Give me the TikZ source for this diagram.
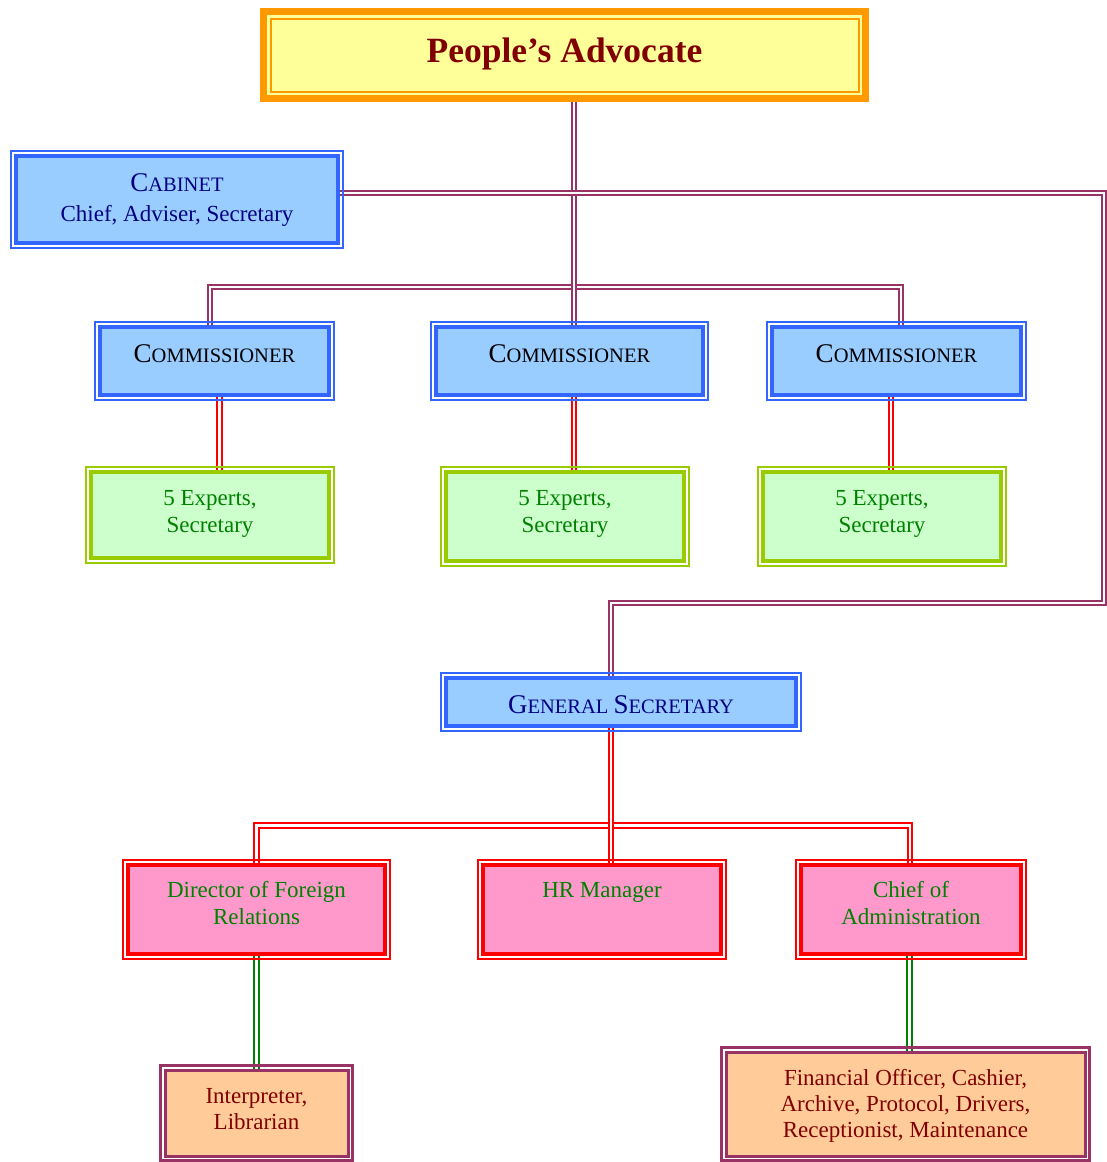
\documentclass[tikz,border=0pt]{standalone}
\usepackage{fontspec}
\setmainfont{Liberation Serif}
\usetikzlibrary{backgrounds}
\definecolor{advorange}{HTML}{FF9900}
\definecolor{advfill}{HTML}{FFFF99}
\definecolor{darkred}{HTML}{800000}
\definecolor{bluel}{HTML}{3366FF}
\definecolor{bluef}{HTML}{99CCFF}
\definecolor{navyt}{HTML}{000080}
\definecolor{greenl}{HTML}{99CC00}
\definecolor{greenf}{HTML}{CCFFCC}
\definecolor{greent}{HTML}{008000}
\definecolor{redl}{HTML}{FF0000}
\definecolor{pinkf}{HTML}{FF99CC}
\definecolor{plum}{HTML}{993366}
\definecolor{peachf}{HTML}{FFCC99}
\newcommand\bt[4]{\parbox[c][#2][t]{#1}{\centering\rule{0pt}{#3}#4\par}}
\newcommand\smc[1]{{\fontsize{20.5}{26}\selectfont #1}}
\newcommand\bigc[1]{{\fontsize{27}{30}\selectfont #1}}
\tikzset{
  boxbase/.style={rectangle, inner sep=0pt, outer sep=0pt, line width=3.5pt},
  bluebox/.style={boxbase, draw=bluel, fill=bluef, text=navyt, font=\fontsize{23}{30}\selectfont},
  combox/.style={bluebox, text=black},
  greenbox/.style={boxbase, draw=greenl, fill=greenf, text=greent, font=\fontsize{23}{27}\selectfont},
  pinkbox/.style={boxbase, draw=redl, fill=pinkf, text=greent, font=\fontsize{23}{26.7}\selectfont},
  peachbox/.style={boxbase, draw=plum, fill=peachf, text=darkred, line width=3pt, font=\fontsize{23}{26.3}\selectfont},
  advbox/.style={rectangle, inner sep=0pt, outer sep=0pt, line width=7pt, draw=advorange, fill=advfill, text=darkred, font=\fontsize{35.5}{40}\selectfont\bfseries},
  boxframe/.style={line width=1.8pt},
  conn/.style={line width=2.3pt, double=white, double distance=2.3pt},
  pconn/.style={conn, draw=plum},
  rconn/.style={conn, draw=redl},
  gconn/.style={conn, draw=greent}
}
\begin{document}
\begin{tikzpicture}[x=1pt, y=-1pt]
\useasboundingbox (0,0) rectangle (1107,1162);
% boxes
\node[advbox] (adv) at (564.5,55) {\bt{602pt}{87pt}{50.5pt}{People’s Advocate}};
\node[bluebox] (cab) at (177,199.5) {\bt{322pt}{87pt}{35.7pt}{\bigc{C\smc{ABINET}}\\Chief, Adviser, Secretary}};
\node[combox] (com1) at (214.5,361) {\bt{229pt}{68pt}{35.5pt}{\bigc{C\smc{OMMISSIONER}}}};
\node[combox] (com2) at (569.5,361) {\bt{267pt}{68pt}{35.5pt}{\bigc{C\smc{OMMISSIONER}}}};
\node[combox] (com3) at (896.5,361) {\bt{249pt}{68pt}{35.5pt}{\bigc{C\smc{OMMISSIONER}}}};
\node[greenbox] (exp1) at (210,515) {\bt{238pt}{86pt}{33.7pt}{5 Experts,\\Secretary}};
\node[greenbox] (exp2) at (565,516.5) {\bt{238pt}{89pt}{33.7pt}{5 Experts,\\Secretary}};
\node[greenbox] (exp3) at (882,516.5) {\bt{238pt}{89pt}{33.7pt}{5 Experts,\\Secretary}};
\node[bluebox] (gs) at (621,702) {\bt{350pt}{48pt}{35.5pt}{\bigc{G\smc{ENERAL }S\smc{ECRETARY}}}};
\node[pinkbox] (dfr) at (256.5,909.5) {\bt{257pt}{89pt}{32.3pt}{Director of Foreign\\Relations}};
\node[pinkbox] (hr) at (602,909.5) {\bt{238pt}{89pt}{32.3pt}{HR Manager}};
\node[pinkbox] (coa) at (911,909.5) {\bt{220pt}{89pt}{32.3pt}{Chief of\\Administration}};
\node[peachbox] (int) at (256.5,1113) {\bt{183pt}{86pt}{33.3pt}{Interpreter,\\Librarian}};
\node[peachbox] (fin) at (905.5,1104) {\bt{359pt}{104pt}{33pt}{Financial Officer, Cashier,\\Archive, Protocol, Drivers,\\Receptionist, Maintenance}};
% outer frames
\draw[advorange, line width=2pt] ([shift={(7pt,-7pt)}]adv.north west) rectangle ([shift={(-7pt,7pt)}]adv.south east);
\foreach \n/\c in {cab/bluel, com1/bluel, com2/bluel, com3/bluel, gs/bluel, exp1/greenl, exp2/greenl, exp3/greenl, dfr/redl, hr/redl, coa/redl}
  \draw[boxframe, draw=\c] ([shift={(-5pt,5pt)}]\n.north west) rectangle ([shift={(5pt,-5pt)}]\n.south east);
\foreach \n in {int, fin}
  \draw[line width=3pt, draw=plum] ([shift={(-4.5pt,4.5pt)}]\n.north west) rectangle ([shift={(4.5pt,-4.5pt)}]\n.south east);
% connectors
\coordinate (cr) at (1104,603);
\begin{scope}[on background layer]
\draw[pconn] ([xshift=-4.5pt]com1.north) -- ++(0,-40) -| ([xshift=4.5pt]com3.north);
\draw[pconn] ([xshift=9.5pt]adv.south) -- ([xshift=9.5pt]adv.south |- com2.north);
\draw[pconn] ([yshift=6.5pt]cab.east) -| (cr) -| ([xshift=-10pt]gs.north);
\draw[rconn] ([xshift=5pt]com1.south) -- ([xshift=5pt]com1.south |- exp1.north);
\draw[rconn] ([xshift=4.5pt]com2.south) -- ([xshift=4.5pt]com2.south |- exp2.north);
\draw[rconn] ([xshift=-5.5pt]com3.south) -- ([xshift=-5.5pt]com3.south |- exp3.north);
\draw[rconn] (dfr.north) -- ++(0,-39.5) -| ([xshift=-1pt]coa.north);
\draw[rconn] ([xshift=-10pt]gs.south) -- ([xshift=-10pt]gs.south |- hr.north);
\draw[gconn] (dfr.south) -- (dfr.south |- int.north);
\draw[gconn] ([xshift=-1.5pt]coa.south) -- ([xshift=-1.5pt]coa.south |- fin.north);
\end{scope}
\end{tikzpicture}
\end{document}
